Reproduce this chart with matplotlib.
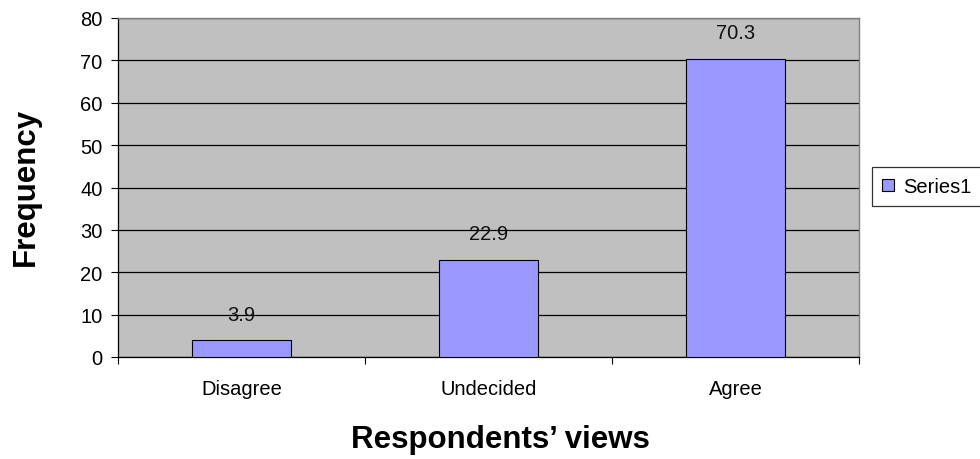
import matplotlib
matplotlib.use("Agg")
import matplotlib.pyplot as plt
from matplotlib.patches import Patch

categories = ["Disagree", "Undecided", "Agree"]
values = [3.9, 22.9, 70.3]
value_labels = ["3.9", "22.9", "70.3"]
series_name = "Series1"
yticks = [0, 10, 20, 30, 40, 50, 60, 70, 80]
xlabel = "Respondents\u2019 views"
ylabel = "Frequency"

plt.rcParams['font.family'] = ['Liberation Sans', 'DejaVu Sans']

fig = plt.figure(figsize=(9.8, 4.6), dpi=100)
ax = fig.add_axes([118/980, 1-358/460, (859-118)/980, (358-19)/460])
ax.set_facecolor('#C0C0C0')

x = list(range(len(categories)))
ax.bar(x, values, width=0.4, color='#9999FF', edgecolor='black', linewidth=0.8, zorder=3)

for xi, v, lab in zip(x, values, value_labels):
    ax.annotate(lab, (xi, v), xytext=(0, 19), textcoords='offset points',
                ha='center', va='center', fontsize=14.5, color='#111111', zorder=4)

ax.set_xlim(-0.5, len(categories) - 0.5)
ax.set_ylim(0, 80)
ax.set_yticks(yticks)
ax.set_yticklabels([str(t) for t in yticks])
ax.yaxis.grid(True, color='black', linewidth=0.9, zorder=1)
ax.set_axisbelow(True)

ax.set_xticks(x)
ax.set_xticklabels(categories)
ax.set_xticks([i - 0.5 for i in range(len(categories) + 1)], minor=True)
ax.tick_params(axis='x', which='major', length=0, pad=16, labelsize=14.5)
ax.tick_params(axis='x', which='minor', length=5, width=0.8, direction='out', color='black')
ax.tick_params(axis='y', length=5, width=0.8, direction='out', pad=6, labelsize=14.5)

for s in ['top', 'right']:
    ax.spines[s].set_color('#808080')
    ax.spines[s].set_linewidth(1.0)
for s in ['left', 'bottom']:
    ax.spines[s].set_color('black')
    ax.spines[s].set_linewidth(0.9)

fig.text(500/980, 1-440/460, xlabel, ha='center', va='center', fontsize=22.5, fontweight='bold')
fig.text(26/980, 1-187/460, ylabel, ha='center', va='center', rotation=90, fontsize=22.5, fontweight='bold')

handle = Patch(facecolor='#9999FF', edgecolor='black', linewidth=0.8)
leg = fig.legend([handle], [series_name], loc='center left',
                 bbox_to_anchor=(872/980, 1-187.5/460), fontsize=14.5,
                 frameon=True, fancybox=False, borderaxespad=0, borderpad=0.5,
                 handlelength=0.6, handleheight=0.6, handletextpad=0.45)
leg.get_frame().set_edgecolor('black')
leg.get_frame().set_linewidth(0.9)

fig.savefig('out.png', dpi=100)
